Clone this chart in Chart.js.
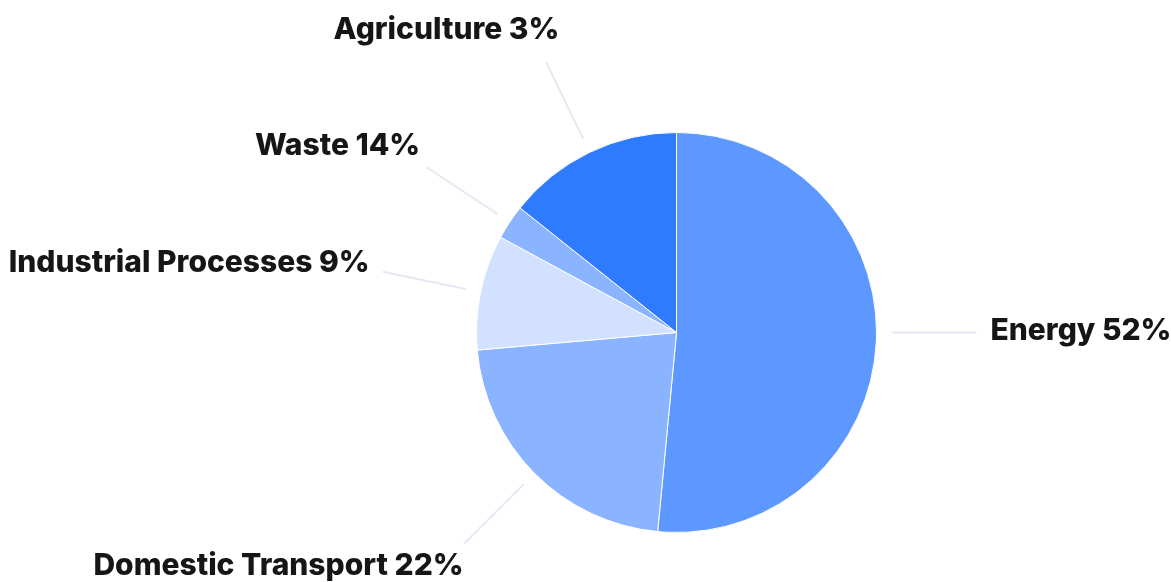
<!DOCTYPE html>
<html lang="en">
<head>
    <meta charset="UTF-8">
    <title>Emissions by Sector</title>
    <script src="https://cdn.jsdelivr.net/npm/chart.js"></script>
    <style>
        body, html {
            margin: 0;
            padding: 0;
            background: #fff;
        }
        #wrap {
            width: 1171px;
            height: 582px;
        }
    </style>
</head>
<body>
    <div id="wrap"><canvas id="pieChart"></canvas></div>

    <script>
        // Slices in drawing order (clockwise from 12 o'clock), sizes
        const categories = ['Energy', 'Domestic Transport', 'Industrial Processes', 'Waste', 'Agriculture'];
        const values = [51.5, 22.1, 9.3, 2.8, 14.3];
        // Percentages printed beside each slice, as shown in the reference
        const shares = [52, 22, 9, 14, 3];
        const colors = ['#5C98FF', '#8AB4FF', '#D2E1FF', '#8AB4FF', '#2F7BFF'];

        // Leader lines + outside labels
        const outLabels = {
            id: 'outLabels',
            afterDatasetsDraw(chart) {
                const ctx = chart.ctx;
                const arcs = chart.getDatasetMeta(0).data;
                ctx.save();
                ctx.font = '800 30px Inter, "DejaVu Sans", sans-serif';
                ctx.textBaseline = 'middle';
                arcs.forEach((arc, i) => {
                    let mid = (arc.startAngle + arc.endAngle) / 2;
                    let dx = Math.cos(mid), dy = Math.sin(mid);
                    // nearly level leaders are drawn flat
                    if (Math.abs(dy) < 0.1) { dy = 0; dx = Math.sign(dx); }
                    const r = arc.outerRadius;
                    const x1 = arc.x + dx * (r + 15), y1 = arc.y + dy * (r + 15);
                    const x2 = arc.x + dx * (r + 100), y2 = arc.y + dy * (r + 100);

                    ctx.strokeStyle = '#E6E8F4';
                    ctx.lineWidth = 2;
                    ctx.beginPath();
                    ctx.moveTo(x1, y1);
                    ctx.lineTo(x2, y2);
                    ctx.stroke();

                    const right = dx >= 0;
                    const ox = 34 - 48 * Math.abs(dx);
                    ctx.fillStyle = '#161616';
                    ctx.textAlign = right ? 'left' : 'right';
                    ctx.fillText(categories[i] + ' ' + shares[i] + '%',
                        right ? x2 - ox : x2 + ox,
                        y2 + dy * 34 - 2);
                });
                ctx.restore();
            }
        };

        new Chart(document.getElementById('pieChart'), {
            type: 'pie',
            data: {
                labels: categories,
                datasets: [{
                    data: values,
                    backgroundColor: colors,
                    borderColor: '#fff',
                    borderWidth: 1
                }]
            },
            options: {
                responsive: true,
                maintainAspectRatio: false,
                animation: false,
                layout: {
                    padding: { left: 300, right: 118, top: 132, bottom: 49 }
                },
                plugins: {
                    legend: { display: false },
                    tooltip: { enabled: false }
                }
            },
            plugins: [outLabels]
        });
    </script>
</body>
</html>
